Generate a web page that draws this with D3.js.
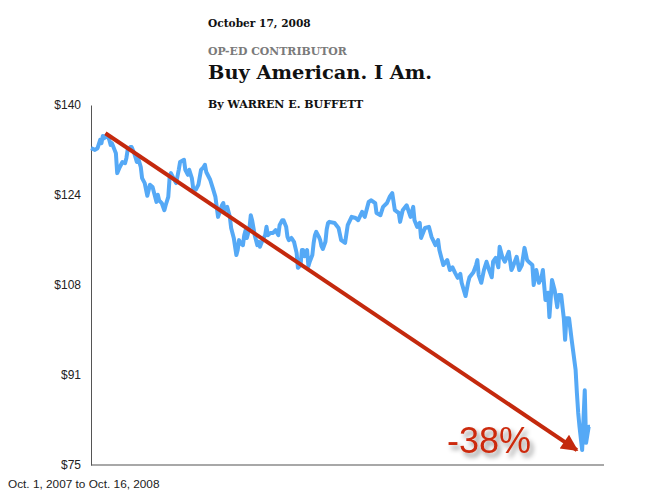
<!DOCTYPE html>
<html lang="en">
<head>
<meta charset="UTF-8" />
<script src="https://d3js.org/d3.v7.min.js"></script>
<title>Buy American. I Am.</title>
<style>
    body { margin: 0; background: #fff; }
    .yAxis text { font-family: "Liberation Sans", Arial, sans-serif; font-size: 12px; fill: #222; }
    .yAxis path { stroke: #555; }
    .head { font-family: "DejaVu Serif", "Liberation Serif", serif; font-weight: bold; }
</style>
</head>
<body>
<script>
    // calendar days after Oct. 1, 2007
    const days = [0,3,5,7,8,9,10,12,14,15,16,18,19,20,22,24,26,27,28,30,31,33,35,36,38,39,41,43,45,47,48,50,51,52,54,56,57,59,60,61,63,65,67,68,71,72,74,75,77,78,80,82,84,86,87,88,91,93,95,96,97,98,100,101,102,104,106,107,109,111,112,113,114,116,117,118,119,121,122,123,125,127,128,129,131,133,134,135,137,139,141,143,144,146,147,149,150,151,153,155,157,158,160,161,162,163,165,166,167,169,170,171,172,174,175,176,177,179,180,181,182,186,189,191,194,196,199,202,204,207,209,212,214,217,218,221,223,226,228,230,232,235,236,238,241,244,246,247,249,251,252,255,258,260,263,265,266,269,272,274,276,278,280,282,283,286,288,289,292,294,295,296,298,300,302,304,306,307,309,311,312,314,316,319,321,322,325,327,329,331,333,335,337,338,340,342,344,345,347,349,350,352,354,356,357,359,361,362,363,365,367,368,370,371,372,373,375,376,377,378,380,381];
    const prices = [132.2,131.9,132.2,133.7,133.1,134.4,134.0,134.6,133.7,132.8,133.1,131.9,131.3,127.7,128.8,129.7,129.5,130.4,131.9,132.4,132.4,131.3,129.7,130.4,128.8,126.8,125.9,123.6,125.6,125.2,124.3,122.5,123.8,122.8,122.3,121.0,121.9,123.4,126.8,127.7,126.8,125.9,128.3,129.7,130.1,128.3,127.4,128.3,126.8,125.0,124.7,125.6,128.3,128.8,129.2,127.9,126.5,125.0,123.4,121.6,119.8,120.5,121.9,122.3,121.0,121.6,119.8,117.8,116.0,112.9,113.8,115.6,115.1,114.7,116.5,117.4,116.0,117.8,120.1,119.2,116.5,114.7,115.3,114.4,115.6,116.5,118.0,116.5,116.9,116.9,117.4,116.5,118.3,119.2,119.2,118.0,116.2,115.6,116.0,115.3,113.3,110.6,111.1,113.8,113.8,112.7,113.8,110.9,111.7,112.9,115.1,116.5,117.1,116.2,115.6,114.5,114.0,115.3,117.6,118.7,118.9,118.7,117.8,115.6,115.1,118.3,119.8,119.6,119.2,120.7,119.8,122.5,122.8,122.3,120.5,120.1,121.6,122.3,123.4,124.1,121.0,120.5,118.9,121.0,121.9,119.8,121.6,119.2,118.0,118.7,116.0,117.8,118.0,116.2,114.7,115.6,113.8,111.1,112.0,110.2,110.7,109.7,108.8,109.5,107.9,105.5,108.0,108.9,109.8,111.1,112.0,109.3,107.9,110.2,111.7,110.2,108.9,111.7,112.4,110.7,114.4,112.6,111.7,113.5,110.2,110.7,112.6,110.2,111.1,114.2,112.0,111.5,111.1,107.5,110.2,107.9,108.9,110.2,104.8,106.1,101.7,108.4,106.6,103.5,105.7,105.7,101.5,97.6,101.5,101.5,97.6,95.8,92.2,88.0,84.4,81.9,77.7,83.1,88.5,79.0,81.9,81.9];
    const yTicks = [140, 123.75, 107.5, 91.25, 75];
    // annotation arrow: [day, price]
    const arrowFrom = [11, 134.9];
    const arrowTo = [371, 77.7];
    const drop = "-38%";

    const start = new Date(2007, 9, 1);
    const dayDate = d => d3.timeDay.offset(start, d);
    const series = days.map((d, i) => ({ date: dayDate(d), price: prices[i] }));

    const svg = d3.select("body").append("svg")
        .attr("width", 658)
        .attr("height", 494);

    const defs = svg.append("defs");
    defs.append("marker")
        .attr("id", "head")
        .attr("viewBox", "0 0 10 10")
        .attr("refX", 9).attr("refY", 5)
        .attr("markerWidth", 5.5).attr("markerHeight", 4.2)
        .attr("markerUnits", "strokeWidth")
        .attr("orient", "auto")
        .append("path").attr("d", "M0,0L10,5L0,10Z").attr("fill", "#c4290d");
    const f = defs.append("filter").attr("id", "shadow")
        .attr("x", "-20%").attr("y", "-30%").attr("width", "150%").attr("height", "170%");
    f.append("feDropShadow").attr("dx", 3).attr("dy", 4).attr("stdDeviation", 2.5)
        .attr("flood-color", "#000").attr("flood-opacity", 0.45);

    const x = d3.scaleTime().domain([start, new Date(2008, 9, 16)]).range([91, 590]);
    const y = d3.scaleLinear().domain([75, 140]).range([465, 105]);

    // heading
    const head = svg.append("g").attr("class", "head");
    head.append("text").attr("x", 208).attr("y", 27).attr("font-size", 10.6).attr("fill", "#111").text("October 17, 2008");
    head.append("text").attr("x", 208).attr("y", 55).attr("font-size", 10.9).attr("fill", "#7a7a7a").text("OP-ED CONTRIBUTOR");
    head.append("text").attr("x", 208).attr("y", 79).attr("font-size", 19.4).attr("fill", "#111").text("Buy American. I Am.");
    head.append("text").attr("x", 208).attr("y", 108).attr("font-size", 11).attr("fill", "#111").text("By WARREN E. BUFFETT");

    // axes
    svg.append("line")
        .attr("x1", x.range()[0]).attr("x2", x.range()[1] + 14)
        .attr("y1", y(75)).attr("y2", y(75))
        .attr("stroke", "#a8a8a8").attr("stroke-width", 2);

    const axisY = d3.axisLeft(y)
        .tickValues(yTicks)
        .tickSize(0)
        .tickPadding(10)
        .tickFormat(d => "$" + Math.round(d));
    const gY = svg.append("g")
        .attr("class", "yAxis")
        .attr("transform", `translate(${x.range()[0]},0)`);
    axisY(gY);
    gY.select(".domain").attr("stroke", "#555");

    // price line
    const line = d3.line().x(d => x(d.date)).y(d => y(d.price));
    svg.append("path")
        .datum(series)
        .attr("d", line)
        .attr("fill", "none")
        .attr("stroke", "#55a9f6")
        .attr("stroke-width", 4)
        .attr("stroke-linejoin", "round");

    // trend arrow
    svg.append("line")
        .attr("x1", x(dayDate(arrowFrom[0]))).attr("y1", y(arrowFrom[1]))
        .attr("x2", x(dayDate(arrowTo[0]))).attr("y2", y(arrowTo[1]))
        .attr("stroke", "#c4290d")
        .attr("stroke-width", 4)
        .attr("marker-end", "url(#head)");

    svg.append("text")
        .attr("x", 447).attr("y", 453)
        .attr("font-family", "'Liberation Sans', Arial, sans-serif")
        .attr("font-size", 36)
        .attr("fill", "#cc2a0c")
        .attr("filter", "url(#shadow)")
        .text(drop);

    svg.append("text")
        .attr("x", 8).attr("y", 488)
        .attr("font-family", "'Liberation Sans', Arial, sans-serif")
        .attr("font-size", 11.8)
        .attr("fill", "#222")
        .text("Oct. 1, 2007 to Oct. 16, 2008");
</script>
</body>
</html>
